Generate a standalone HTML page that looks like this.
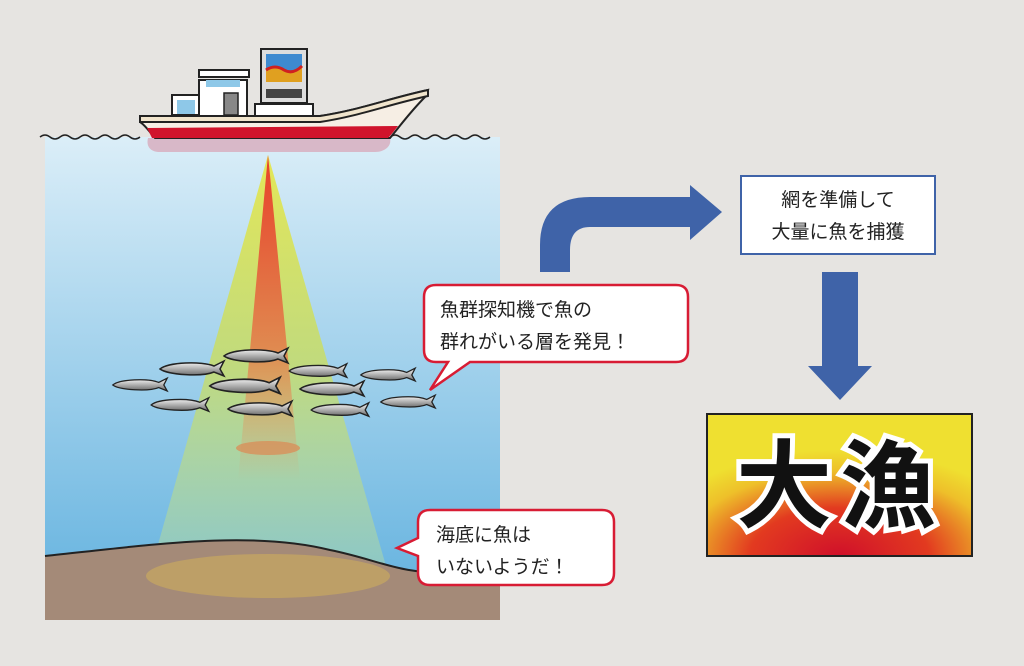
<!DOCTYPE html>
<html><head><meta charset="utf-8"><style>
body{margin:0;background:#e6e4e1;}
svg{display:block;}
text{font-family:"Liberation Sans","Noto Sans CJK JP",sans-serif;}
</style></head><body>
<svg width="1024" height="666" viewBox="0 0 1024 666">
<defs>
<linearGradient id="sea" x1="0" y1="0" x2="0" y2="1">
<stop offset="0" stop-color="#dbeef8"/><stop offset="1" stop-color="#5fb0de"/></linearGradient>
<linearGradient id="beam" x1="0" y1="0" x2="0" y2="1">
<stop offset="0" stop-color="#e6e63c"/><stop offset="0.5" stop-color="#c6dc6a"/><stop offset="1" stop-color="#a8d6b0" stop-opacity="0.6"/></linearGradient>
<linearGradient id="ob" x1="0" y1="0" x2="0" y2="1">
<stop offset="0" stop-color="#e8402a"/><stop offset="0.6" stop-color="#e08a50"/><stop offset="1" stop-color="#e0a070" stop-opacity="0"/></linearGradient>
<linearGradient id="fish" x1="0" y1="0" x2="0" y2="1">
<stop offset="0" stop-color="#fff"/><stop offset="1" stop-color="#666"/></linearGradient>
<radialGradient id="tairyo" cx="0.5" cy="1" r="0.75">
<stop offset="0" stop-color="#d0102a"/><stop offset="0.45" stop-color="#e23a20"/><stop offset="0.8" stop-color="#eec02a"/><stop offset="1" stop-color="#efe030"/></radialGradient>
<g id="f"><path d="M-32,0 C-24,-7 10,-8 22,-3 L32,-8 L28,0 L32,7 L22,3 C10,8 -24,6 -32,0Z" fill="url(#fish)" stroke="#222" stroke-width="1.5"/></g>
</defs>
<rect x="45" y="137" width="455" height="483" fill="url(#sea)"/>
<polygon points="268,155 148,580 390,580" fill="url(#beam)" opacity="0.85"/>
<polygon points="268,155 238,480 300,480" fill="url(#ob)"/>
<ellipse cx="268" cy="448" rx="32" ry="7" fill="#d8905a" opacity="0.8"/>
<path d="M45,556 C150,545 250,530 330,550 C380,560 400,575 450,572 C480,570 490,568 500,568 L500,620 L45,620Z" fill="#a48a78"/>
<path d="M45,556 C150,545 250,530 330,550 C380,560 400,575 450,572 C480,570 490,568 500,568" fill="none" stroke="#222" stroke-width="2"/>
<ellipse cx="268" cy="576" rx="122" ry="22" fill="#c8a860" opacity="0.7"/>
<g>
<use href="#f" transform="translate(140,385) scale(0.85)"/>
<use href="#f" transform="translate(192,369)"/>
<use href="#f" transform="translate(256,356)"/>
<use href="#f" transform="translate(245,386) scale(1.1)"/>
<use href="#f" transform="translate(180,405) scale(0.9)"/>
<use href="#f" transform="translate(260,409)"/>
<use href="#f" transform="translate(318,371) scale(0.9)"/>
<use href="#f" transform="translate(332,389)"/>
<use href="#f" transform="translate(388,375) scale(0.85)"/>
<use href="#f" transform="translate(340,410) scale(0.9)"/>
<use href="#f" transform="translate(408,402) scale(0.85)"/>
</g>
<!-- waves -->
<path d="M40,137 q5,-4 10,0 q5,4 10,0 q5,-4 10,0 q5,4 10,0 q5,-4 10,0 q5,4 10,0 q5,-4 10,0 q5,4 10,0 q5,-4 10,0 q5,4 10,0" fill="none" stroke="#222" stroke-width="1.5"/>
<path d="M390,137 q5,-4 10,0 q5,4 10,0 q5,-4 10,0 q5,4 10,0 q5,-4 10,0 q5,4 10,0 q5,-4 10,0 q5,4 10,0 q5,-4 10,0 q5,4 10,0" fill="none" stroke="#222" stroke-width="1.5" transform="translate(0,0)"/>
<!-- ship -->
<path d="M148,138 L390,138 C392,146 385,152 375,152 L160,152 C150,152 146,146 148,138Z" fill="#d8b8c8"/>
<rect x="172" y="95" width="30" height="20" fill="#fff" stroke="#222" stroke-width="2"/>
<rect x="177" y="100" width="18" height="14" fill="#8ec8e8"/>
<rect x="199" y="80" width="48" height="36" fill="#fff" stroke="#222" stroke-width="2"/>
<rect x="199" y="70" width="50" height="7" fill="#fff" stroke="#222" stroke-width="2"/>
<rect x="206" y="80" width="34" height="7" fill="#8ec8e8"/>
<rect x="224" y="93" width="14" height="22" fill="#888" stroke="#222" stroke-width="1.5"/>
<rect x="261" y="49" width="46" height="54" fill="#ddd" stroke="#222" stroke-width="2"/>
<rect x="266" y="54" width="36" height="28" fill="#3e8ad0"/>
<path d="M266,70 q9,-6 18,0 q9,5 18,-4 L302,82 L266,82Z" fill="#e0a020"/>
<path d="M266,70 q9,-6 18,0 q9,5 18,-4" fill="none" stroke="#d02020" stroke-width="3"/>
<rect x="266" y="89" width="36" height="9" fill="#444"/>
<rect x="255" y="104" width="58" height="12" fill="#fff" stroke="#222" stroke-width="2"/>
<path d="M140,116 L320,116 C360,110 390,98 428,90 L426,96 C410,112 400,126 390,138 L155,138 C148,130 145,125 140,122Z" fill="#f6eee4" stroke="#222" stroke-width="2"/>
<path d="M147,128 L398,126 C394,131 392,134 388,138 L152,138Z" fill="#d0142c"/>
<path d="M140,116 L320,116 C360,110 390,98 428,90 L428,96 C390,104 360,116 320,122 L140,122Z" fill="#f0e4cc" stroke="#222" stroke-width="2"/>
<!-- bubble 1 -->
<path d="M436,285 L676,285 Q688,285 688,297 L688,350 Q688,362 676,362 L470,362 L430,390 L448,362 L436,362 Q424,362 424,350 L424,297 Q424,285 436,285Z" fill="#fff" stroke="#d81c34" stroke-width="2.5"/>
<text x="440" y="316" font-size="19" fill="#222">魚群探知機で魚の</text>
<text x="440" y="348" font-size="19" fill="#222">群れがいる層を発見！</text>
<!-- bubble 2 -->
<path d="M430,510 L602,510 Q614,510 614,522 L614,573 Q614,585 602,585 L430,585 Q418,585 418,573 L418,556 L397,548 L418,538 L418,522 Q418,510 430,510Z" fill="#fff" stroke="#d81c34" stroke-width="2.5"/>
<text x="436" y="541" font-size="19" fill="#222">海底に魚は</text>
<text x="436" y="573" font-size="19" fill="#222">いないようだ！</text>
<!-- curved arrow -->
<path d="M540,272 L540,245 Q540,197 590,197 L690,197 L690,185 L722,212 L690,240 L690,227 L590,227 Q570,227 570,250 L570,272Z" fill="#3f63a8"/>
<rect x="741" y="176" width="194" height="78" fill="#fff" stroke="#3f63a8" stroke-width="2"/>
<text x="838" y="206" font-size="19" fill="#222" text-anchor="middle">網を準備して</text>
<text x="838" y="238" font-size="19" fill="#222" text-anchor="middle">大量に魚を捕獲</text>
<path d="M822,272 L858,272 L858,366 L872,366 L840,400 L808,366 L822,366Z" fill="#3f63a8"/>
<rect x="707" y="414" width="265" height="142" fill="url(#tairyo)" stroke="#222" stroke-width="2"/>
<text x="840" y="520" font-size="96" font-weight="bold" text-anchor="middle" fill="#111" stroke="#fff" stroke-width="10" paint-order="stroke" letter-spacing="8" font-family="'Noto Sans CJK JP',sans-serif">大漁</text>
</svg>
</body></html>
